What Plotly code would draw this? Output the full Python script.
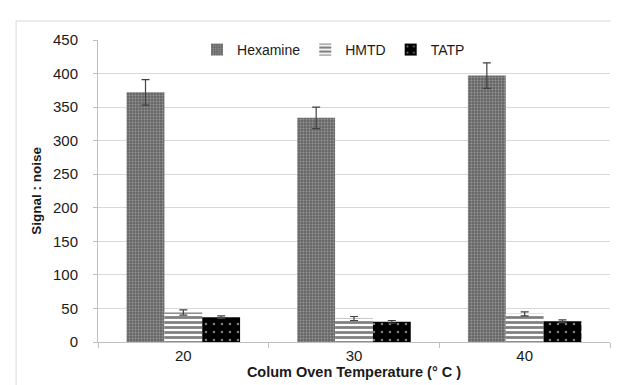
import plotly.graph_objects as go

categories = ["20", "30", "40"]
hexamine = [372, 334, 397]
hexamine_err = [19, 16, 19]
hmtd = [44, 35, 42]
hmtd_err = [4, 3, 3]
tatp = [37, 30, 31]
tatp_err = [2, 2, 2]

FONT = "Liberation Sans, Arial, sans-serif"
err_style = dict(type="data", thickness=1.2, width=4, color="#404040")

fig = go.Figure()
fig.add_trace(go.Bar(
    name="Hexamine", x=categories, y=hexamine,
    error_y=dict(array=hexamine_err, **err_style),
    marker=dict(color="#707070", line=dict(width=0),
                pattern=dict(shape=".", bgcolor="#666666", fgcolor="#c8c8c8", size=3, solidity=0.35)),
))
fig.add_trace(go.Bar(
    name="HMTD", x=categories, y=hmtd,
    error_y=dict(array=hmtd_err, **err_style),
    marker=dict(color="white", line=dict(width=0),
                pattern=dict(shape="-", bgcolor="white", fgcolor="black", size=5, solidity=0.55)),
))
fig.add_trace(go.Bar(
    name="TATP", x=categories, y=tatp,
    error_y=dict(array=tatp_err, **err_style),
    marker=dict(color="black", line=dict(width=0),
                pattern=dict(shape=".", bgcolor="black", fgcolor="white", size=8, solidity=0.08)),
))

fig.update_layout(
    width=619, height=385,
    margin=dict(l=90, r=17, t=32, b=51),
    paper_bgcolor="white", plot_bgcolor="white",
    barmode="group", bargap=0.335, bargroupgap=0,
    font=dict(family=FONT, size=15, color="#1a1a1a"),
    showlegend=True,
    legend=dict(orientation="h", x=0.46, xanchor="center", y=0.967, yanchor="middle",
                font=dict(size=14), itemwidth=30, tracegroupgap=0,
                bgcolor="rgba(0,0,0,0)"),
    xaxis=dict(
        type="category", showline=True, linecolor="#bfbfbf", linewidth=1,
        ticks="outside", tickson="boundaries", ticklen=5, tickcolor="#bfbfbf",
        showgrid=False, tickfont=dict(size=15),
        title=dict(text="<b>Colum Oven Temperature (° C )</b>", font=dict(size=14.5), standoff=3),
    ),
    yaxis=dict(
        range=[0, 450], dtick=50, showgrid=True, gridcolor="#d9d9d9", gridwidth=1,
        showline=True, linecolor="#bfbfbf", linewidth=1,
        ticks="outside", ticklen=4, tickcolor="#bfbfbf", tickfont=dict(size=15),
        ticklabelstandoff=12,
        zeroline=False,
        title=dict(text="<b>Signal : noise</b>", font=dict(size=13.5), standoff=8),
    ),
    shapes=[dict(type="rect", xref="paper", yref="paper",
                 x0=-0.16, x1=1.1, y0=-0.3, y1=1.063,
                 line=dict(color="#d9d9d9", width=1), fillcolor="rgba(0,0,0,0)", layer="below")],
)

fig.write_html("out.html")
